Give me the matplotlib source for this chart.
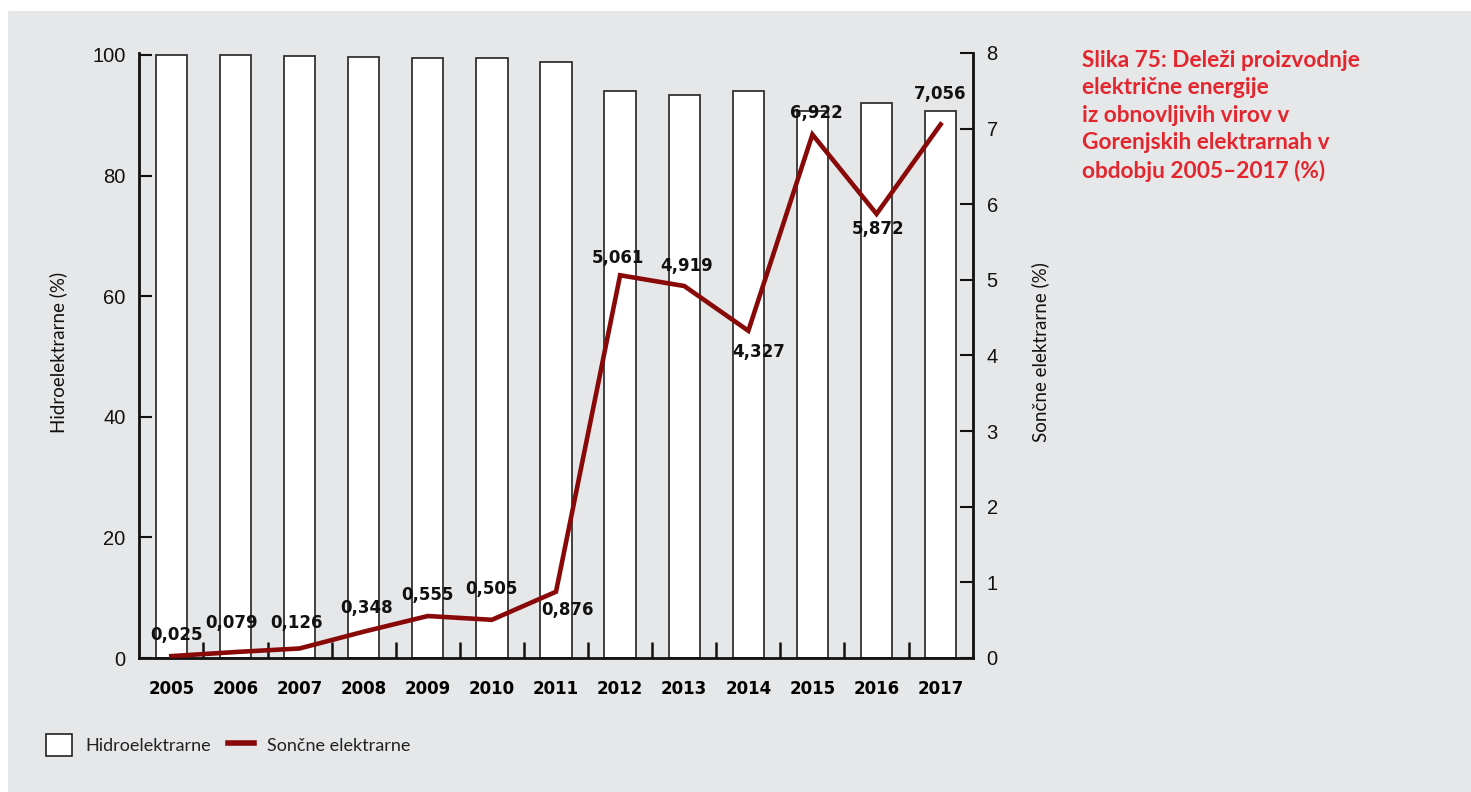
import numpy as np
import matplotlib.pyplot as plt
from matplotlib.patches import Rectangle, Patch
from matplotlib.lines import Line2D

years = ['2005', '2006', '2007', '2008', '2009', '2010', '2011',
         '2012', '2013', '2014', '2015', '2016', '2017']
hidro = [100.0, 99.95, 99.9, 99.7, 99.45, 99.5, 98.8,
         94.0, 93.4, 94.0, 90.7, 92.1, 90.7]
soncne = [0.025, 0.079, 0.126, 0.348, 0.555, 0.505, 0.876,
          5.061, 4.919, 4.327, 6.922, 5.872, 7.056]
labels = ['0,025', '0,079', '0,126', '0,348', '0,555', '0,505', '0,876',
          '5,061', '4,919', '4,327', '6,922', '5,872', '7,056']

# label offsets in pixels (dx, dy)
offs = [(5, 21), (-4, 29), (-3, 25), (3, 24), (0, 21), (0, 31), (11, -18),
        (-2, 17), (2, 20), (10, -21), (4, 22), (2, -15), (-1, 30)]

grey = '#e6e7e9'
red = '#890808'

fig = plt.figure(figsize=(14.71, 7.92), dpi=100)
fig.patch.set_facecolor('white')
fig.patches.append(Rectangle((8/1471, 0), 1, 1 - 11/792, transform=fig.transFigure,
                             facecolor=grey, edgecolor='none', zorder=-10))

ax = fig.add_axes([139.3/1471, 1 - 658/792, (972.7 - 139.3)/1471, 605/792])
ax.set_facecolor('none')
x = np.arange(len(years))
ax.bar(x, hidro, width=0.49, color='white', edgecolor='#333333', linewidth=1.3, zorder=2)
ax.set_xlim(-0.5, 12.5)
ax.set_ylim(0, 100.33)

ax2 = ax.twinx()
ax2.set_ylim(0, 8)
ax2.plot(x, soncne, color=red, lw=3.3, zorder=3, solid_joinstyle='miter')
for i, (v, lab) in enumerate(zip(soncne, labels)):
    ax2.annotate(lab, (x[i], v), xytext=offs[i], textcoords='offset pixels',
                 ha='center', va='center', fontsize=12, fontweight='bold',
                 family='DejaVu Sans', color='#111111', zorder=4)

for a in (ax, ax2):
    a.spines['top'].set_visible(False)
ax.spines['right'].set_visible(False)
ax2.spines['left'].set_visible(False)
ax2.spines['bottom'].set_visible(False)
for s in ('left', 'bottom'):
    ax.spines[s].set_linewidth(2)
    ax.spines[s].set_color('#111111')
ax2.spines['right'].set_linewidth(2)
ax2.spines['right'].set_color('#111111')

ax.set_yticks(range(0, 101, 20))
ax.tick_params(axis='y', direction='in', length=9.5, width=1.5, pad=10,
               labelsize=14.5, colors='#111111')
ax2.set_yticks(range(0, 9))
ax2.tick_params(axis='y', direction='in', length=9.5, width=1.5, pad=10,
                labelsize=14.5, colors='#111111')
for t in ax.get_yticklabels() + ax2.get_yticklabels():
    t.set_family('Liberation Sans')

ax.set_xticks(x)
ax.set_xticklabels(years, fontsize=12, fontweight='bold', family='DejaVu Sans')
ax.set_xticks(np.arange(0.5, 12, 1), minor=True)
ax.tick_params(axis='x', which='major', length=0, pad=16)
ax.tick_params(axis='x', which='minor', direction='in', length=11.5, width=1.8, color='#111111')

ax.set_ylabel('Hidroelektrarne (%)', fontsize=13.5, family='Lato', color='#111111')
ax.yaxis.set_label_coords(-0.086, 0.505)
ax2.set_ylabel('Sončne elektrarne (%)', fontsize=13.5, family='Lato', color='#111111')
ax2.yaxis.set_label_coords(1.070, 0.505)

fig.text(1082/1471, 1 - 50/792,
         'Slika 75: Deleži proizvodnje\nelektrične energije\niz obnovljivih virov v\n'
         'Gorenjskih elektrarnah v\nobdobju 2005\u20132017 (%)',
         ha='left', va='top', fontsize=16.3, fontweight='bold', family='Lato',
         color='#e3262e', linespacing=1.38)

handles = [Patch(facecolor='white', edgecolor='#222222', linewidth=1.2),
           Line2D([], [], color=red, lw=4)]
leg = fig.legend(handles, ['Hidroelektrarne', 'Sončne elektrarne'],
                 loc='center left', bbox_to_anchor=(46/1471, 1 - 745/792),
                 ncol=2, frameon=False, prop={'family': 'Lato', 'size': 13},
                 handlelength=1.45, handleheight=1.45, handletextpad=0.75,
                 columnspacing=0.9, borderaxespad=0, borderpad=0)
for t in leg.get_texts():
    t.set_color('#222222')

fig.savefig('out.png', dpi=100, facecolor=fig.get_facecolor())
